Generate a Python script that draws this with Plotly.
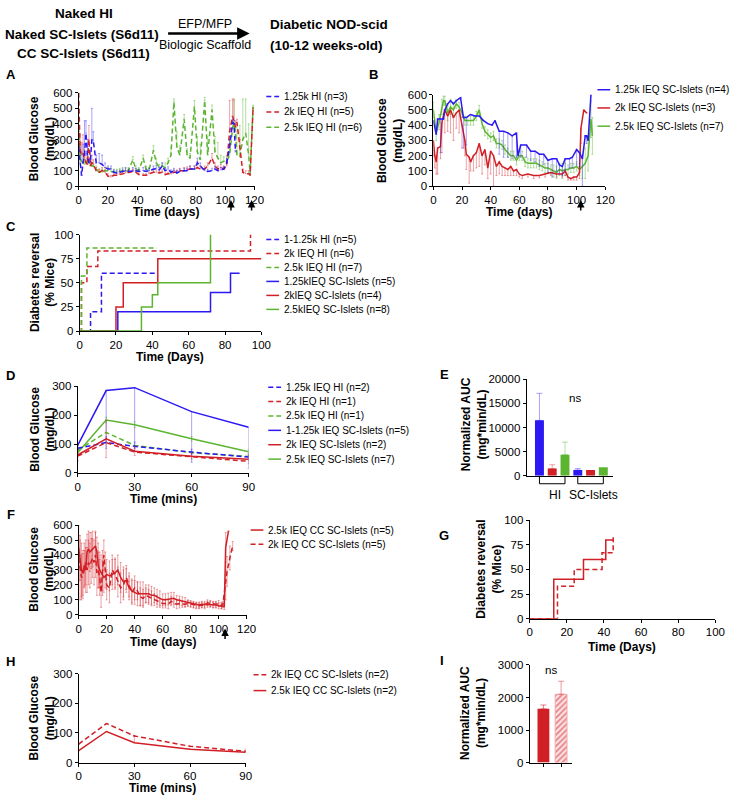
import plotly.graph_objects as go

W, H = 744, 802
FONT = "Liberation Sans, Arial, sans-serif"

BLUE = "#2b18f2"; RED = "#d11f26"; GREEN = "#5cb531"
BLUE_E = "rgba(43,24,242,0.40)"; RED_E = "rgba(209,31,38,0.40)"; GREEN_E = "rgba(92,181,49,0.45)"

# ---------------- Panel A data ----------------
A_days = [0,1,2,3,4,5,6,7,8,9,10, 12,14,16,18,20, 22,24,26,28,30, 32,34,37,39,41, 44,46,48,51,53,
          55,57,59,61,63, 65,67,69,72,74, 76,79,81,83,86, 88,91,93,95,97, 99,101,103,105,106,
          107,108,110,112,114, 116,117,119]
A_blue = [250,150,70,150,200,340,200,150,160,300,290, 150,150,140,120,110, 110,90,85,90,95,
          100,95,100,100,95, 100,95,100,110,115, 105,130,100,110,90, 100,85,95,100,100,
          110,110,150,130,100, 95,100,110,100,105, 110,150,250,410,400, 220,None,None,None,None, None,None,None]
A_blue_err = [0,100,0,120,220,80,100,0,60,200,60, 50,60,60,30,20, 20,15,15,15,15, 20,15,20,15,15,
              20,15,15,20,20, 15,20,15,15,15, 15,15,15,15,15, 20,20,30,20,15, 15,15,15,15,15,
              15,30,50,20,20, 10,0,0,0,0, 0,0,0]
A_red = [600,230,200,210,170,150,140,300,130,150,140, 100,90,100,90,65, 60,70,70,75,80,
         85,90,95,90,75, 70,70,80,90,90, 85,90,75,80,80, 90,90,100,100,105,
         110,110,120,110,110, 130,180,130,110,120, 110,130,350,450,420, 380,410,250,90,80, 80,70,500]
A_red_err = [0,100,80,120,60,60,40,90,30,50,30, 20,20,20,15,15, 10,10,10,10,10, 15,15,15,10,10,
             10,10,10,15,15, 10,15,10,10,10, 15,15,15,20,20, 20,20,40,20,20, 20,30,20,20,20,
             20,30,200,110,140, 40,20,50,20,20, 20,10,0]
A_green = [380,180,160,150,140,150,160,150,140,130,130, 110,90,90,100,100, 95,90,90,95,100,
           95,100,170,110,100, 180,110,100,230,150, 120,130,120,150,200, 540,250,200,430,200,
           180,510,220,170,550, 200,490,220,180,150, 160,160,200,370,400, 350,200,190,300,340, 200,80,510]
A_green_err = [30,40,60,30,20,20,20,20,20,20,20, 20,20,20,20,20, 20,20,20,20,20, 20,20,20,20,20,
               20,20,20,30,30, 20,20,30,30,50, 20,100,60,30,40, 30,40,100,100,20, 120,30,100,100,50,
               30,40,100,50,150, 50,200,200,260,220, 200,20,10]
A_names = ["1.25k HI (n=3)", "2k IEQ HI (n=5)", "2.5k IEQ HI (n=6)"]

# ---------------- Panel B data ----------------
B_blue_days = [0,2,3,5,7,8,10,12,14,16, 18,19,21,23,26,29,32,35,38,41, 43,46,49,52,55,58,59,61,65,68,
               71,74,77,80,83,86,88,90,92,95, 97,100,102,104,106,107,108,110]
B_blue = [430,340,440,440,440,500,540,560,540,560, 575,580,450,450,470,460,460,430,410,400,
          430,360,360,350,330,350,200,270,270,230, 230,210,210,170,180,180,140,130,180,180,
          190,240,220,180,330,330,300,600]
B_blue_errm = [0,0,0,220,0,0,0,0,0,0, 0,0,200,180,0,0,0,0,0,0, 0,150,170,160,150,160,0,80,80,60,
               70,80,70,80,120,80,60,60,80,60, 70,100,90,180,0,50,0,0]
B_red_days = [0,1,2,3,5,6,8,10,12,14, 16,18,20,22,23,25,26,28,30,32, 34,36,38,40,42,44,46,48,50,52,
              54,56,58,60,62,66,70,74,78,82, 86,90,92,94,96,98,100,102,103,105, 107]
B_red = [300,200,160,250,260,420,500,460,500,450, 480,500,400,300,210,190,160,200,220,280,
         200,240,120,230,200,130,160,130,120,110, 130,100,110,80,70,80,70,70,80,90,
         80,80,100,60,50,60,60,90,380,500, 480]
B_red_errm = [100,80,80,170,80,200,150,100,150,150, 100,150,150,100,100,170,60,100,100,150,
              120,100,70,150,200,60,80,60,50,40, 60,30,40,20,20,20,20,15,20,20,
              20,20,30,20,10,20,20,40,100,0, 0]
B_green_days = [0,2,4,6,7,8,10,12,14,16, 18,20,22,24,26,28,30,32,34,36, 38,40,42,44,46,48,50,52,54,56,
                58,60,62,64,66,68,70,72,74,76, 78,80,82,84,86,88,90,92,94,96, 98,100,102,104,106,108,110,111]
B_green = [500,350,420,520,560,560,480,520,500,540, 520,480,430,430,430,430,460,500,410,360,
           340,320,330,280,280,270,240,220,200,200, 170,200,200,160,150,150,150,150,140,130,
           120,120,110,100,90,110,100,110,110,120, 120,130,110,130,150,200,440,330]
B_green_err = [50,50,50,50,30,30,50,50,50,30, 30,30,30,30,30,30,30,30,30,30, 30,30,30,30,30,30,30,30,30,30,
               30,30,30,30,30,30,30,30,30,30, 30,30,30,40,40,40,50,40,30,30, 30,30,40,80,100,100,120,120]
B_names = ["1.25k IEQ SC-Islets (n=4)", "2k IEQ SC-Islets (n=3)", "2.5k IEQ SC-Islets (n=7)"]

# ---------------- Panel C data (step curves) ----------------
C_hi_blue_x = [0, 6, 12, 42.5];         C_hi_blue_y = [0, 20, 60, 60]
C_hi_red_x = [0, 1, 4, 10, 94];         C_hi_red_y = [0, 50, 67, 83, 100]
C_hi_green_x = [0, 1, 4, 42.5];         C_hi_green_y = [0, 57, 86, 86]
C_sc_blue_x = [0, 21, 72, 83, 88];      C_sc_blue_y = [0, 20, 40, 60, 60]
C_sc_red_x = [0, 20, 24, 43, 100];      C_sc_red_y = [0, 25, 50, 75, 75]
C_sc_green_x = [0, 34, 40, 43, 72];     C_sc_green_y = [0, 25, 37.5, 50, 100]
C_names = ["1-1.25k HI (n=5)", "2k IEQ HI (n=6)", "2.5k IEQ HI (n=7)",
           "1.25kIEQ SC-Islets (n=5)", "2kIEQ SC-Islets (n=4)", "2.5kIEQ SC-Islets (n=8)"]

# ---------------- Panel D data (IPGTT) ----------------
D_t = [0, 15, 30, 60, 90]
D_hi_blue = [85, 105, 92, 72, 55];   D_hi_blue_err = [5, 20, 15, 10, 10]
D_hi_red = [58, 105, 72, 55, 40]
D_hi_green = [78, 140, 95, 70, 57]
D_sc_blue = [95, 285, 295, 212, 158]; D_sc_blue_errm = [10, 180, 210, 175, 143]
D_sc_red = [62, 118, 75, 58, 47];     D_sc_red_err = [20, 65, 15, 10, 15]
D_sc_green = [70, 183, 167, 118, 73]; D_sc_green_err = [5, 10, 10, 8, 8]
D_names = ["1.25k IEQ HI (n=2)", "2k IEQ HI (n=1)", "2.5k IEQ HI (n=1)",
           "1-1.25k IEQ SC-Islets (n=5)", "2k IEQ SC-Islets (n=2)", "2.5k IEQ SC-Islets (n=7)"]

# ---------------- Panel E data (AUC) ----------------
E_pos = [1, 2, 3, 4, 5, 6]
E_auc = [11500, 1500, 4400, 1200, 1200, 1800]
E_err = [5600, 800, 2600, 300, 0, 0]
E_colors = [BLUE, RED, GREEN, BLUE, RED, GREEN]
E_ecolors = [BLUE_E, RED_E, GREEN_E, BLUE_E, RED_E, GREEN_E]
E_groups = ["HI", "SC-Islets"]
E_yticks = [0, 5000, 10000, 15000, 20000]

# ---------------- Panel F data ----------------
F_solid_days = [0,1,2,3,4,5,6,7,8,9,10, 12,13,14,15,16,17,18,
                20,22,24,26,28,30,32,34,36,38, 40,42,44,46,48,50,52,54,56,58,
                60,62,64,66,68,70,72,74,76,78, 80,82,84,86,88,90,92,94,96,98, 100,102,104, 105,107]
F_solid = [450,380,300,280,330,300,420,440,420,430,440, 460,420,330,300,280,260,250,
           270,260,270,280,300,250,220,230,180,160, 150,140,140,140,140,140,130,130,120,110,
           100,100,105,110,110,100,95,90,85,80, 75,70,65,65,70,70,70,70,65,65, 60,60,55, 450,560]
F_solid_err = [150,150,180,150,150,150,120,120,130,120,120, 100,100,150,120,120,100,100,
               100,100,100,100,100,100,100,80,80,80, 80,80,80,80,60,60,60,50,50,50,
               40,40,40,40,40,30,30,30,30,20, 20,20,20,20,20,20,20,20,20,20, 20,20,20, 100,0]
F_dash_days = [0,1,2,3,4,5,6,7,8,9,10,11,12,13,14,15,16,17,18,19,20,
               22,24,26,28,30,32,34,36,38,40, 42,44,46,48,50,52,54,56,58,60,
               62,64,66,68,70,72,74,76,78,80, 82,84,86,88,90,92,94,96,98,100, 102, 103,105,106,108,110]
F_dash = [380,300,250,260,310,350,300,350,330,360,380,350,400,280,300,250,150,280,400,300,200,
          180,300,270,220,180,200,250,200,150,180, 160,120,110,130,120,110,100,90,80,75,
          75,70,90,80,70,75,70,70,75,70, 65,60,60,65,60,80,75,70,70,75, 60, 70,200,290,380,460]
F_dash_err = [150,200,150,150,120,150,150,150,150,150,130,150,150,150,120,120,100,150,100,120,100,
              100,100,100,100,100,100,80,80,80,80, 60,60,60,50,50,50,40,40,30,30,
              30,30,30,30,30,30,20,20,20,20, 20,20,20,20,20,20,20,20,20,20, 20, 20,100,100,80,30]
F_names = ["2.5k IEQ CC SC-Islets (n=5)", "2k IEQ CC SC-Islets (n=5)"]

# ---------------- Panel G data ----------------
G_solid_x = [0, 13, 29, 41, 45]; G_solid_y = [0, 40, 60, 80, 80]
G_dash_x = [0, 15, 24, 39, 45];  G_dash_y = [0, 33, 50, 67, 83]

# ---------------- Panel H data ----------------
H_t = [0, 15, 30, 60, 90]
H_dash = [62, 132, 90, 55, 38];  H_dash_err = [0, 0, 0, 0, 8]
H_solid = [40, 105, 67, 45, 35]; H_solid_err = [0, 0, 25, 0, 5]
H_names = ["2k IEQ CC SC-Islets (n=2)", "2.5k IEQ CC SC-Islets (n=2)"]

# ---------------- Panel I data ----------------
I_pos = [1, 2]
I_auc = [1650, 2100]
I_err = [120, 400]

# =========================================================
def fx(p): return p / W
def fy(p): return 1 - p / H

fig = go.Figure()
layout = dict(width=W, height=H, margin=dict(l=0, r=0, t=0, b=0),
              paper_bgcolor="white", plot_bgcolor="white", showlegend=False,
              font=dict(family=FONT, size=11, color="black"))

def axes(i, xpx, ypx, xr, yr, xtv, ytv, xtt=None, ytt=None):
    sfx = "" if i == 1 else str(i)
    common = dict(showline=True, linecolor="black", linewidth=1, ticks="outside", ticklen=3,
                  tickwidth=1, tickcolor="black", showgrid=False, zeroline=False,
                  tickfont=dict(family=FONT, size=11.5, color="black"), fixedrange=True)
    if ytt is None:
        ytt = [str(v) for v in ytv]
    layout["xaxis" + sfx] = dict(domain=[fx(xpx[0]), fx(xpx[1])], range=xr, anchor="y" + sfx,
                                 tickvals=xtv, ticktext=xtt, **common)
    layout["yaxis" + sfx] = dict(domain=[fy(ypx[1]), fy(ypx[0])], range=yr, anchor="x" + sfx,
                                 tickvals=ytv, ticktext=ytt, **common)

axes(1, (77, 256), (88, 183), [0, 120], [0, 600], list(range(0, 121, 20)), list(range(0, 601, 100)))
axes(2, (438, 613), (90, 183), [0, 120], [0, 600], list(range(0, 121, 20)), list(range(0, 601, 100)))
axes(3, (78, 263), (232, 330), [0, 100], [0, 100], list(range(0, 101, 20)), [0, 25, 50, 75, 100])
axes(4, (76, 250), (386, 474), [0, 90], [0, 300], [0, 30, 60, 90], [0, 100, 200, 300])
axes(5, (533, 621), (379, 477), [0, 6.77], [0, 20000], [], E_yticks)
axes(6, (77, 248), (527, 618), [0, 120], [0, 600], list(range(0, 121, 20)), list(range(0, 601, 100)))
axes(7, (536, 725), (522, 622), [0, 100], [0, 100], list(range(0, 101, 20)), [0, 25, 50, 75, 100])
axes(8, (77, 247), (678, 768), [0, 90], [0, 300], [0, 30, 60, 90], [0, 100, 200, 300])
axes(9, (536, 579), (669, 768), [0.22, 2.61], [0, 3000], I_pos, [0, 1000, 2000, 3000], ["", ""])

def ax(i):
    s = "" if i == 1 else str(i)
    return dict(xaxis="x" + s, yaxis="y" + s)

DASH = "5px,3px"

def line(i, x, y, color, dash=None, width=1.5, err=None, errm=None, ecolor=None, shape="linear", sym=False):
    kw = {}
    if err is not None or errm is not None:
        e = dict(type="data", color=ecolor, thickness=1, width=1)
        if sym:
            e.update(array=err, symmetric=True)
        else:
            e.update(array=err if err is not None else [0] * len(x),
                     arrayminus=errm if errm is not None else [0] * len(x), symmetric=False)
        kw["error_y"] = e
    fig.add_trace(go.Scatter(x=x, y=y, mode="lines", line=dict(color=color, width=width, dash=dash, shape=shape),
                             connectgaps=False, **kw, **ax(i)))

# A
line(1, A_days, A_green, GREEN, DASH, err=A_green_err, ecolor=GREEN_E)
line(1, A_days, A_red, RED, DASH, err=A_red_err, ecolor=RED_E)
line(1, A_days, A_blue, BLUE, DASH, err=A_blue_err, ecolor=BLUE_E)
# B
line(2, B_green_days, B_green, GREEN, err=B_green_err, ecolor=GREEN_E, sym=True)
line(2, B_red_days, B_red, RED, errm=B_red_errm, ecolor=RED_E)
line(2, B_blue_days, B_blue, BLUE, errm=B_blue_errm, ecolor=BLUE_E)
# C
line(3, C_hi_blue_x, C_hi_blue_y, BLUE, DASH, shape="hv")
line(3, C_hi_red_x, C_hi_red_y, RED, DASH, shape="hv")
line(3, C_hi_green_x, C_hi_green_y, GREEN, DASH, shape="hv")
line(3, C_sc_blue_x, C_sc_blue_y, BLUE, shape="hv")
line(3, C_sc_red_x, C_sc_red_y, RED, shape="hv")
line(3, C_sc_green_x, C_sc_green_y, GREEN, shape="hv")
# D
line(4, D_t, D_sc_blue, BLUE, errm=D_sc_blue_errm, ecolor=BLUE_E)
line(4, D_t, D_sc_green, GREEN, err=D_sc_green_err, ecolor=GREEN_E, sym=True)
line(4, D_t, D_hi_green, GREEN, DASH)
line(4, D_t, D_hi_blue, BLUE, DASH, err=D_hi_blue_err, ecolor=BLUE_E, sym=True)
line(4, D_t, D_sc_red, RED, err=D_sc_red_err, ecolor=RED_E, sym=True)
line(4, D_t, D_hi_red, RED, DASH)
# E (one trace per bar so each error bar keeps its own colour)
for p, v, e, c, ec in zip(E_pos, E_auc, E_err, E_colors, E_ecolors):
    fig.add_trace(go.Bar(x=[p], y=[v], width=0.7, marker=dict(color=c, line=dict(width=0)),
                         error_y=dict(type="data", array=[e], arrayminus=[0], symmetric=False,
                                      color=ec, thickness=1, width=3, visible=e > 0), **ax(5)))
# F
line(6, F_dash_days, F_dash, RED, DASH, err=F_dash_err, ecolor=RED_E, sym=True)
line(6, F_solid_days, F_solid, RED, err=F_solid_err, ecolor=RED_E, sym=True)
# G
line(7, G_dash_x, G_dash_y, RED, DASH, shape="hv")
line(7, G_solid_x, G_solid_y, RED, shape="hv")
# H
line(8, H_t, H_dash, RED, DASH, err=H_dash_err, ecolor=RED_E)
line(8, H_t, H_solid, RED, err=H_solid_err, ecolor=RED_E)
# I
fig.add_trace(go.Bar(x=I_pos[:1], y=I_auc[:1], width=0.67, marker=dict(color=RED, line=dict(width=0)),
                     error_y=dict(type="data", array=I_err[:1], arrayminus=[0], symmetric=False,
                                  color="rgba(209,31,38,0.55)", thickness=1, width=3), **ax(9)))
fig.add_trace(go.Bar(x=I_pos[1:], y=I_auc[1:], width=0.67,
                     marker=dict(color="#f7c6c8", line=dict(color="#f3a9ad", width=1),
                                 pattern=dict(shape="/", fgcolor=RED, bgcolor="#fbe3e4", size=4, solidity=0.45)),
                     error_y=dict(type="data", array=I_err[1:], arrayminus=[0], symmetric=False,
                                  color="rgba(209,31,38,0.45)", thickness=1, width=3), **ax(9)))

# =========================================================
ann = []
shapes = []

def text(x, y, s, size=11, bold=False, anchor="center", angle=0, family=FONT):
    if bold:
        s = "<br>".join("<b>%s</b>" % p for p in s.split("<br>"))
    ann.append(dict(x=fx(x), y=fy(y), xref="paper", yref="paper", text=s, showarrow=False,
                    xanchor=anchor, yanchor="middle", textangle=angle,
                    font=dict(family=family, size=size, color="black")))

def legend(x0, y0, dy, names, colors, dashes, size=10, ll=13):
    for k, (n, c, d) in enumerate(zip(names, colors, dashes)):
        yy = y0 + k * dy
        shapes.append(dict(type="line", xref="paper", yref="paper", x0=fx(x0), x1=fx(x0 + ll),
                           y0=fy(yy), y1=fy(yy), line=dict(color=c, width=1.5, dash=d)))
        text(x0 + ll + 3, yy, n, size=size, anchor="left")

def arrow(x, ytip, ytail):
    ann.append(dict(x=fx(x), y=fy(ytip), xref="paper", yref="paper", ax=0, ay=ytail - ytip,
                    showarrow=True, arrowhead=2, arrowsize=1, arrowwidth=1.5, arrowcolor="black", text=""))

# header
text(82, 8, "Naked HI", 13.5, True)
text(80, 29, "Naked SC-Islets (S6d11)", 13.5, True)
text(82, 48, "CC SC-Islets (S6d11)", 13.5, True)
text(206, 18, "EFP/MFP", 12.5)
text(206, 40, "Biologic Scaffold", 12.5)
ann.append(dict(x=fx(251), y=fy(28), xref="paper", yref="paper", ax=-83, ay=0, showarrow=True,
                arrowhead=2, arrowsize=1, arrowwidth=2.5, arrowcolor="black", text=""))
text(270, 19, "Diabetic NOD-scid", 13.5, True, anchor="left")
text(270, 40, "(10-12 weeks-old)", 13.5, True, anchor="left")

# panel letters
for L, x, y in [("A", 8, 70), ("B", 377, 70), ("C", 8, 224), ("D", 8, 375), ("E", 449, 374),
                ("F", 8, 516), ("G", 449, 538), ("H", 8, 665), ("I", 447, 664)]:
    text(x, y, L, 13, True)

# axis titles
BG = "Blood Glucose<br>(mg/dL)"
text(40, 135, BG, 12, True, angle=-90)
text(166, 209, "Time (days)", 12, True)
text(394, 137, BG, 12, True, angle=-90)
text(525, 209, "Time (days)", 12, True)
text(40, 281, "Diabetes reversal<br>(% Mice)", 12, True, angle=-90)
text(170, 356, "Time (Days)", 12, True)
text(40, 430, BG, 12, True, angle=-90)
text(163, 500, "Time (mins)", 12, True)
text(479, 425, "Normalized AUC<br>(mg*min/dL)", 12, True, angle=-90)
text(40, 572, BG, 12, True, angle=-90)
text(163, 646, "Time (days)", 12, True)
text(495, 572, "Diabetes reversal<br>(% Mice)", 12, True, angle=-90)
text(630, 651, "Time (Days)", 12, True)
text(40, 723, BG, 12, True, angle=-90)
text(162, 794, "Time (mins)", 12, True)
text(479, 718, "Normalized AUC<br>(mg*min/dL)", 12, True, angle=-90)

# ns labels
text(582, 398, "ns", 11.5)
text(558, 674, "ns", 11.5)

# E brackets
for (a, b), lab in zip([(E_pos[0], E_pos[2]), (E_pos[3], E_pos[5])], E_groups):
    shapes.append(dict(type="path", xref="x5", yref="paper",
                       path="M %s,%s L %s,%s L %s,%s L %s,%s" % (a, fy(477), a, fy(485), b, fy(485), b, fy(477)),
                       line=dict(color="black", width=1)))
text(562, 496, E_groups[0], 12)
text(601, 496, E_groups[1], 12)

# arrows
arrow(232, 197, 209); arrow(253, 197, 209)
arrow(588, 197, 209)
arrow(226, 632, 644)

# legends
legend(268, 92, 15.5, A_names, [BLUE, RED, GREEN], [DASH] * 3)
legend(605, 85, 18.5, B_names, [BLUE, RED, GREEN], [None] * 3)
legend(268, 237, 14.2, C_names, [BLUE, RED, GREEN] * 2, [DASH] * 3 + [None] * 3)
legend(270, 387, 14.6, D_names, [BLUE, RED, GREEN] * 2, [DASH] * 3 + [None] * 3)
legend(252, 532, 14.5, F_names, [RED, RED], [None, DASH])
legend(255, 679, 16, H_names, [RED, RED], [DASH, None])

layout["annotations"] = ann
layout["shapes"] = shapes
fig.update_layout(**layout)
fig.write_html("out.html", config={"displayModeBar": False},
               post_script="document.body.style.margin='0';document.body.style.overflow='hidden';")
